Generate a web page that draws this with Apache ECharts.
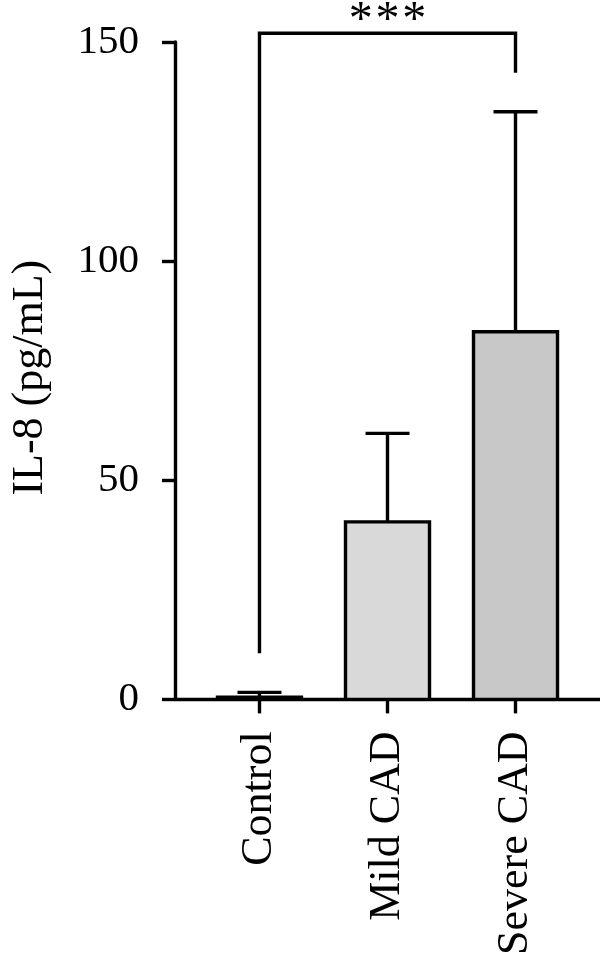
<!DOCTYPE html>
<html>
<head>
<meta charset="utf-8">
<style>
  html, body { margin: 0; padding: 0; background: #ffffff; }
  #chart { width: 600px; height: 958px; }
</style>
<script src="https://cdn.jsdelivr.net/npm/echarts@6/dist/echarts.min.js"></script>
</head>
<body>
<div id="chart"></div>
<script>
// ---- data ----
const categories = ['Control', 'Mild CAD', 'Severe CAD'];
const means = [0.5, 40.5, 83.9];
const errorTops = [1.6, 60.7, 134.1];
const barColors = ['#f2f2f2', '#d9d9d9', '#c8c8c8'];
const yTicks = [0, 50, 100, 150];
// significance bracket: from group 0 to group 2
const sigFrom = 0, sigTo = 2;
const sigLeftBottom = 10.5, sigRightBottom = 143, sigTop = 152;
const sigStars = ['*', '*', '*'];

const FONT = "'Liberation Serif', 'DejaVu Serif', serif";
const BAR_W = 84;
const CAP_W = 44;
const LW = 3.4;
const STAR_GAP = 26.8;

const chart = echarts.init(document.getElementById('chart'));

const barData = categories.map((c, i) => [i, means[i], errorTops[i]]);

const option = {
  backgroundColor: '#ffffff',
  animation: false,
  grid: { left: 160, right: 0, top: 42, bottom: 255, containLabel: false },
  xAxis: {
    type: 'value',
    min: -0.66,
    max: 2.66,
    splitLine: { show: false },
    axisLine: { show: true, onZero: false, lineStyle: { color: '#000', width: LW } },
    axisTick: { show: true, customValues: [0, 1, 2], length: 14, lineStyle: { color: '#000', width: LW } },
    axisLabel: {
      show: true,
      customValues: [0, 1, 2],
      formatter: v => categories[Math.round(v)] || '',
      rotate: 90,
      margin: 32,
      color: '#000',
      fontFamily: FONT,
      fontSize: 44
    }
  },
  yAxis: {
    type: 'value',
    min: 0,
    max: 150,
    interval: 50,
    splitLine: { show: false },
    axisLine: { show: true, onZero: false, lineStyle: { color: '#000', width: LW } },
    axisTick: { show: true, length: 13, lineStyle: { color: '#000', width: LW } },
    axisLabel: {
      color: '#000',
      fontFamily: FONT,
      fontSize: 41,
      margin: 36,
      formatter: v => (yTicks.indexOf(v) >= 0 ? String(v) : '')
    },
    name: 'IL-8 (pg/mL)',
    nameLocation: 'middle',
    nameRotate: 90,
    nameGap: 123,
    nameTextStyle: { color: '#000', fontFamily: FONT, fontSize: 44, padding: [0, 14, 0, 0] }
  },
  series: [
    {
      type: 'custom',
      clip: false,
      data: barData,
      renderItem: function (params, api) {
        const x = api.value(0);
        const m = api.value(1);
        const e = api.value(2);
        const i = params.dataIndex;
        const p0 = api.coord([x, 0]);
        const pm = api.coord([x, m]);
        const pe = api.coord([x, e]);
        return {
          type: 'group',
          children: [
            {
              type: 'line',
              shape: { x1: pm[0], y1: pm[1], x2: pe[0], y2: pe[1] },
              style: { stroke: '#000', lineWidth: LW }
            },
            {
              type: 'line',
              shape: { x1: pe[0] - CAP_W / 2, y1: pe[1], x2: pe[0] + CAP_W / 2, y2: pe[1] },
              style: { stroke: '#000', lineWidth: LW }
            },
            {
              type: 'rect',
              shape: { x: p0[0] - BAR_W / 2, y: pm[1], width: BAR_W, height: p0[1] - pm[1] },
              style: { fill: barColors[i], stroke: '#000', lineWidth: LW }
            }
          ]
        };
      }
    },
    {
      type: 'custom',
      clip: false,
      data: [[sigFrom, sigTo, sigLeftBottom, sigRightBottom, sigTop]],
      renderItem: function (params, api) {
        const a = api.value(0), b = api.value(1);
        const lb = api.value(2), rb = api.value(3), top = api.value(4);
        const pA = api.coord([a, lb]);
        const pAT = api.coord([a, top]);
        const pBT = api.coord([b, top]);
        const pB = api.coord([b, rb]);
        const cx = (pAT[0] + pBT[0]) / 2;
        const children = [
          {
            type: 'polyline',
            shape: { points: [pA, pAT, pBT, pB] },
            style: { stroke: '#000', lineWidth: LW, fill: null }
          }
        ];
        sigStars.forEach((s, k) => {
          children.push({
            type: 'text',
            style: {
              text: s,
              x: cx + (k - (sigStars.length - 1) / 2) * STAR_GAP,
              y: pAT[1] - 12,
              align: 'center',
              verticalAlign: 'middle',
              fill: '#000',
              font: '48px ' + FONT
            }
          });
        });
        return { type: 'group', children: children };
      }
    }
  ]
};

chart.setOption(option);
</script>
</body>
</html>
